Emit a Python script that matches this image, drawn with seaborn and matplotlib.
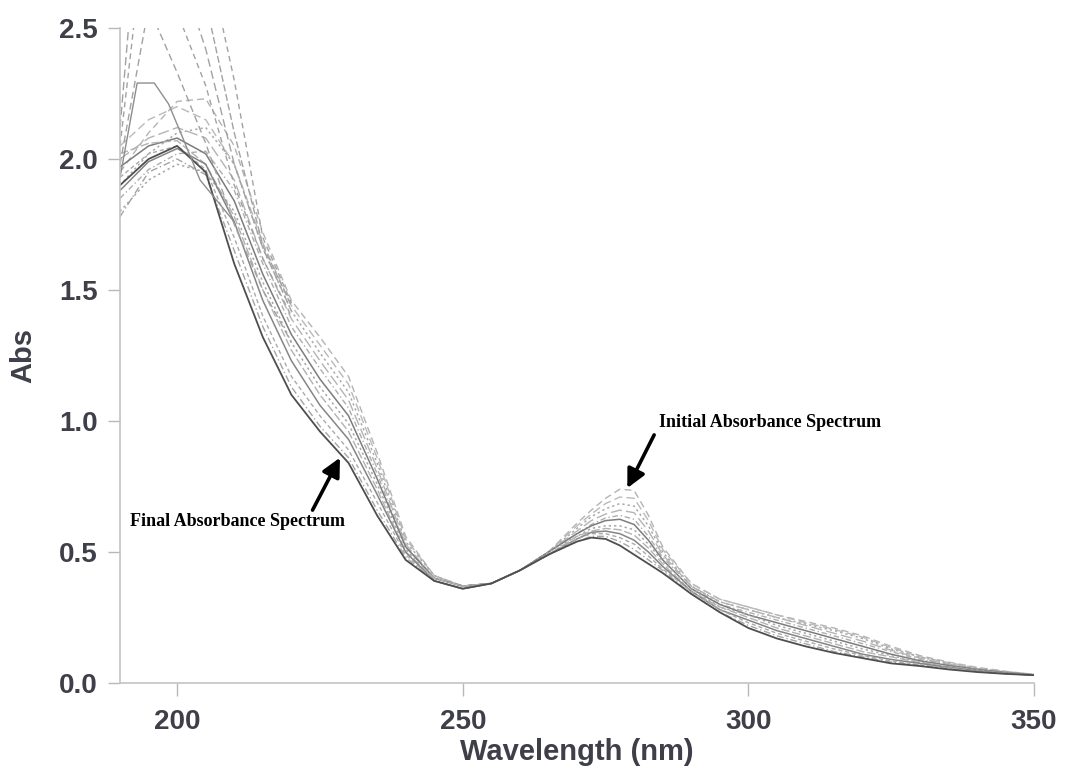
import matplotlib
matplotlib.use("Agg")
import matplotlib.pyplot as plt
import seaborn as sns

# ---------------- data ----------------
wavelength = [190, 195, 200, 205, 210, 215, 220, 225, 230, 235, 240, 245, 250,
              255, 260, 265, 270, 272.5, 275, 277.5, 280, 282.5, 285,
              290, 295, 300, 305, 310, 315, 320, 325, 330, 335, 340, 345, 350]

spec_00 = [1.95, 2.10, 2.22, 2.23, 2.05, 1.72, 1.46, 1.32, 1.17, 0.88, 0.56, 0.41, 0.37,
           0.38, 0.43, 0.50, 0.61, 0.66, 0.705, 0.74, 0.735, 0.64, 0.52,
           0.38, 0.32, 0.29, 0.26, 0.235, 0.21, 0.18, 0.14, 0.105, 0.08, 0.06, 0.045, 0.033]
spec_01 = [2.05, 2.15, 2.20, 2.15, 1.98, 1.68, 1.44, 1.29, 1.14, 0.86, 0.55, 0.41, 0.37,
           0.38, 0.43, 0.50, 0.60, 0.645, 0.685, 0.71, 0.705, 0.62, 0.51,
           0.38, 0.32, 0.29, 0.26, 0.23, 0.205, 0.175, 0.135, 0.10, 0.078, 0.058, 0.044, 0.033]
spec_02 = [1.90, 2.02, 2.10, 2.12, 1.98, 1.66, 1.42, 1.26, 1.11, 0.84, 0.54, 0.41, 0.37,
           0.38, 0.43, 0.50, 0.59, 0.635, 0.665, 0.685, 0.675, 0.60, 0.50,
           0.37, 0.31, 0.28, 0.25, 0.225, 0.20, 0.17, 0.13, 0.10, 0.075, 0.056, 0.043, 0.032]
spec_03 = [2.00, 2.08, 2.12, 2.08, 1.92, 1.62, 1.39, 1.23, 1.08, 0.82, 0.53, 0.40, 0.37,
           0.38, 0.43, 0.50, 0.58, 0.62, 0.645, 0.66, 0.65, 0.58, 0.49,
           0.37, 0.31, 0.28, 0.25, 0.22, 0.19, 0.16, 0.125, 0.095, 0.072, 0.055, 0.042, 0.032]
spec_04 = [1.85, 1.96, 2.02, 2.03, 1.88, 1.60, 1.36, 1.20, 1.05, 0.80, 0.52, 0.40, 0.37,
           0.38, 0.43, 0.50, 0.57, 0.605, 0.63, 0.64, 0.625, 0.56, 0.48,
           0.37, 0.30, 0.27, 0.24, 0.21, 0.18, 0.15, 0.12, 0.09, 0.07, 0.053, 0.041, 0.031]
spec_05 = [1.97, 2.05, 2.08, 2.02, 1.84, 1.56, 1.33, 1.16, 1.02, 0.78, 0.52, 0.40, 0.37,
           0.38, 0.43, 0.50, 0.57, 0.60, 0.62, 0.625, 0.605, 0.545, 0.47,
           0.36, 0.30, 0.26, 0.23, 0.20, 0.17, 0.14, 0.11, 0.085, 0.067, 0.052, 0.04, 0.031]
spec_06 = [1.80, 1.92, 1.98, 1.95, 1.80, 1.53, 1.30, 1.13, 0.99, 0.76, 0.51, 0.40, 0.37,
           0.38, 0.43, 0.50, 0.56, 0.59, 0.60, 0.60, 0.585, 0.53, 0.465,
           0.36, 0.29, 0.26, 0.22, 0.19, 0.16, 0.13, 0.105, 0.08, 0.064, 0.05, 0.039, 0.03]
spec_07 = [2.02, 2.06, 2.07, 1.98, 1.78, 1.50, 1.27, 1.10, 0.96, 0.74, 0.50, 0.40, 0.37,
           0.38, 0.43, 0.49, 0.56, 0.58, 0.59, 0.585, 0.565, 0.515, 0.455,
           0.35, 0.29, 0.25, 0.21, 0.18, 0.15, 0.12, 0.10, 0.078, 0.062, 0.048, 0.038, 0.03]
spec_08 = [1.88, 1.99, 2.04, 1.98, 1.76, 1.46, 1.23, 1.06, 0.93, 0.72, 0.50, 0.39, 0.36,
           0.38, 0.43, 0.49, 0.55, 0.575, 0.58, 0.57, 0.545, 0.50, 0.445,
           0.35, 0.28, 0.24, 0.20, 0.17, 0.14, 0.11, 0.09, 0.075, 0.06, 0.047, 0.037, 0.03]
spec_09 = [1.93, 2.02, 2.05, 1.96, 1.70, 1.40, 1.17, 1.02, 0.89, 0.69, 0.49, 0.39, 0.36,
           0.38, 0.43, 0.49, 0.55, 0.57, 0.57, 0.555, 0.53, 0.485, 0.435,
           0.35, 0.28, 0.23, 0.19, 0.16, 0.13, 0.105, 0.085, 0.07, 0.058, 0.045, 0.036, 0.03]
spec_10 = [1.78, 1.95, 2.00, 1.94, 1.65, 1.36, 1.13, 0.98, 0.86, 0.66, 0.48, 0.39, 0.36,
           0.38, 0.43, 0.49, 0.54, 0.56, 0.56, 0.54, 0.51, 0.47, 0.43,
           0.34, 0.27, 0.22, 0.18, 0.15, 0.12, 0.10, 0.08, 0.068, 0.055, 0.044, 0.035, 0.03]
spec_11 = [1.90, 2.00, 2.05, 1.95, 1.60, 1.32, 1.10, 0.96, 0.84, 0.64, 0.47, 0.39, 0.36,
           0.38, 0.43, 0.49, 0.54, 0.555, 0.55, 0.525, 0.49, 0.455, 0.42,
           0.34, 0.27, 0.21, 0.17, 0.14, 0.115, 0.095, 0.075, 0.065, 0.052, 0.042, 0.035, 0.03]

# short-wavelength parts of spectra that run off the top of the scale
steep_wl = [190, 195, 200, 205, 210, 215, 220]
steep_1 = [1.98, 2.58, 2.33, 2.06, 1.75, 1.50, 1.30]
steep_2 = [2.05, 3.00, 2.56, 2.28, 1.90, 1.62, 1.40]
steep_3 = [2.12, 3.40, 2.75, 2.42, 1.98, 1.66, 1.42]
steep_4 = [3.50, 3.60, 3.20, 2.60, 2.10, 1.67, 1.44]
steep_5 = [4.00, 4.00, 3.50, 2.80, 2.30, 1.70, 1.45]

# solid curve with a flat top near 195 nm
plateau_wl = [190, 193, 196, 198.5, 201, 204, 207, 210]
plateau_abs = [1.93, 2.29, 2.29, 2.21, 2.08, 1.92, 1.84, 1.76]

x_ticks = [200, 250, 300, 350]
y_ticks = [0.0, 0.5, 1.0, 1.5, 2.0, 2.5]

# ---------------- styling ----------------
sns.set_theme(style="white")
plt.rcParams["font.family"] = ["Liberation Sans", "DejaVu Sans"]
plt.rcParams["font.weight"] = "bold"

fig = plt.figure(figsize=(10.66, 7.76), dpi=100)
ax = fig.add_axes([0.1126, 0.1198, 0.8574, 0.8441])

main_curves = [spec_00, spec_01, spec_02, spec_03, spec_04, spec_05,
               spec_06, spec_07, spec_08, spec_09, spec_10, spec_11]
main_styles = [(0, (5, 3)), (0, (6, 3)), (0, (1.5, 2)), (0, (8, 3)), (0, (4, 2, 1, 2)),
               "-", (0, (1.5, 2)), (0, (6, 2)), "-", (0, (3, 2)), (0, (5, 2, 1, 2)), "-"]
main_colors = ["#b4b4b4", "#bababa", "#aaaaaa", "#b4b4b4", "#aeaeae", "#7c7c7c",
               "#a6a6a6", "#b2b2b2", "#858585", "#aaaaaa", "#a4a4a4", "#4e4e4e"]
main_widths = [1.0, 1.0, 1.1, 1.0, 1.0, 1.1, 1.1, 1.0, 1.1, 1.0, 1.0, 1.3]

for vals, ls, col, lw in zip(main_curves, main_styles, main_colors, main_widths):
    sns.lineplot(x=wavelength, y=vals, ax=ax, color=col, linestyle=ls,
                 linewidth=lw, errorbar=None)

steep_curves = [steep_1, steep_2, steep_3, steep_4, steep_5]
steep_styles = [(0, (5, 3)), (0, (4, 3)), (0, (6, 3)), (0, (5, 2)), (0, (4, 3))]
for vals, ls in zip(steep_curves, steep_styles):
    sns.lineplot(x=steep_wl, y=vals, ax=ax, color="#a2a2a2", linestyle=ls,
                 linewidth=1.0, errorbar=None)

sns.lineplot(x=plateau_wl, y=plateau_abs, ax=ax, color="#8e8e8e",
             linestyle="-", linewidth=1.0, errorbar=None)

ax.set_xlim(190, 350)
ax.set_ylim(0, 2.5)
ax.set_xticks(x_ticks)
ax.set_yticks(y_ticks)
ax.set_yticklabels([f"{v:.1f}" for v in y_ticks])

sns.despine(ax=ax)
for side in ["left", "bottom"]:
    ax.spines[side].set_color("#c4c4c4")
    ax.spines[side].set_linewidth(1.2)

label_col = "#3f3f4a"
ax.tick_params(axis="both", which="major", direction="out", length=9, width=1.0,
               color="#b8b8b8", labelsize=20, labelcolor=label_col,
               bottom=True, left=True)
ax.tick_params(axis="x", pad=10)
ax.tick_params(axis="y", pad=7)
ax.grid(False)

ax.set_xlabel("Wavelength (nm)", fontsize=21, fontweight="bold", color=label_col,
              labelpad=2)
ax.set_ylabel("Abs", fontsize=21, fontweight="bold", color=label_col, labelpad=16)

serif = ["Liberation Serif", "DejaVu Serif"]
ax.text(284.4, 0.996, "Initial Absorbance Spectrum", ha="left", va="center",
        fontsize=13, fontweight="bold", family=serif, color="black")
ax.annotate("", xy=(278.8, 0.744), xytext=(283.5, 0.947),
            arrowprops=dict(arrowstyle="-|>", color="black", lw=2.6,
                            mutation_scale=28, shrinkA=0, shrinkB=0))

ax.text(191.7, 0.615, "Final Absorbance Spectrum", ha="left", va="center",
        fontsize=13, fontweight="bold", family=serif, color="black")
ax.annotate("", xy=(228.5, 0.86), xytext=(223.7, 0.66),
            arrowprops=dict(arrowstyle="-|>", color="black", lw=2.6,
                            mutation_scale=28, shrinkA=0, shrinkB=0))

fig.savefig("out.png", dpi=100, facecolor="white")
